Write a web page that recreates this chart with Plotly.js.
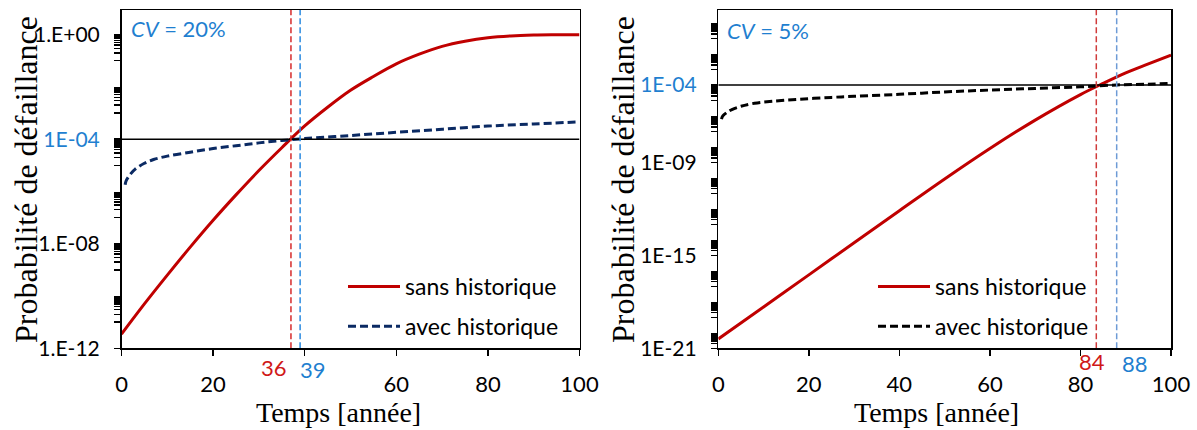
<!DOCTYPE html>
<html>
<head>
<meta charset="utf-8">
<script src="https://cdn.plot.ly/plotly-3.0.1.min.js"></script>
<style>
  html, body { margin: 0; padding: 0; background: #ffffff; }
  #chart { width: 1197px; height: 430px; }
</style>
</head>
<body>
<div id="chart"></div>
<script>
// ---------------- DATA ----------------
// Left panel : CV = 20 %
const tSansL = [0, 5, 10, 15, 20, 25, 30, 35, 40, 45, 50, 55, 60, 65, 70, 75, 80, 85, 90, 95, 100];
const pSansL = [3.5e-12, 5.0e-11, 6.3e-10, 7.4e-9, 7.9e-8, 7.4e-7, 6.3e-6, 4.7e-5, 3.2e-4, 1.66e-3,
                7.4e-3, 2.5e-2, 7.6e-2, 0.178, 0.355, 0.56, 0.76, 0.89, 0.955, 0.98, 0.993];
const tAvecL = [0.8, 1, 2, 3, 5, 7, 10, 15, 20, 25, 30, 35, 40, 50, 60, 70, 80, 90, 100];
const pAvecL = [1.8e-6, 2.5e-6, 4.7e-6, 7.1e-6, 1.2e-5, 1.66e-5, 2.24e-5, 3.16e-5, 4.37e-5, 5.6e-5,
                7.2e-5, 8.9e-5, 1.05e-4, 1.38e-4, 1.82e-4, 2.4e-4, 3.16e-4, 3.8e-4, 4.6e-4];
// Right panel : CV = 5 %
const tSansR = [0, 10, 20, 30, 40, 50, 60, 70, 80, 85, 90, 95, 100];
const pSansR = [4.0e-21, 4.7e-19, 5.5e-17, 6.5e-15, 7.6e-13, 8.5e-11, 7.9e-9, 5.4e-7, 2.4e-5,
                1.26e-4, 6.0e-4, 2.3e-3, 8.5e-3];
const tAvecR = [0.7, 1, 2, 3, 5, 8, 12, 18, 25, 30, 40, 50, 60, 70, 80, 88, 95, 100];
const pAvecR = [6.3e-7, 1.0e-6, 1.78e-6, 2.6e-6, 4.2e-6, 6.6e-6, 8.9e-6, 1.2e-5, 1.58e-5, 1.86e-5,
                2.5e-5, 3.55e-5, 4.7e-5, 6.0e-5, 7.6e-5, 1.0e-4, 1.12e-4, 1.26e-4];

const threshold = 1e-4;           // target probability (horizontal line)
const tLimitL = [37, 39];         // vertical markers, left panel (sans, avec)
const tLimitR = [83.5, 88];       // vertical markers, right panel (sans, avec)
const limitLabelsL = ['36', '39'];
const limitLabelsR = ['84', '88'];
const cvLabels = ['<i>CV</i> = 20%', '<i>CV</i> = 5%'];
const seriesNames = ['sans historique', 'avec historique'];
const xTicks = [0, 20, 40, 60, 80, 100];
const xTickTextL = ['0', '20', '', '60', '80', '100'];   // "40" hidden behind the 36 / 39 labels
const xTickTextR = ['0', '20', '40', '60', '80', '100'];
const yTickValsL = [1, 1e-4, 1e-8, 1e-12];
const yTickTextL = ['1.E+00', '1E-04', '1.E-08', '1.E-12'];
const yTickValsR = [1e-4, 1e-9, 1e-15, 1e-21];
const yTickTextR = ['1E-04', '1E-09', '1E-15', '1E-21'];

// ---------------- STYLE ----------------
const SANS = 'Lato, Carlito, Calibri, "Open Sans", sans-serif';
const SERIF = '"Liberation Serif", "Times New Roman", serif';
const RED = '#c00000';
const NAVY = '#0b2a63';
const BLUE_TXT = '#1f7fd0';

function blueTick(t) { return '<span style="fill:' + BLUE_TXT + '">' + t + '</span>'; }
const tickTextL = yTickTextL.map(t => t === '1E-04' ? blueTick(t) : t);
const tickTextR = yTickTextR.map(t => t === '1E-04' ? blueTick(t) : t);

// minor tick positions emulating the Excel log axis marks
function minorTicks(lo, hi) {
  const v = [];
  for (let d = hi; d >= lo; d -= 2) {
    for (let m = 1; m <= 9; m++) v.push(Math.pow(10, d - 1) * m);
  }
  return v;
}

const yRangeL = [-12, 0.94];
const yRangeR = [-21, 0.84];

const traces = [
  // left panel
  { x: tSansL, y: pSansL, xaxis: 'x', yaxis: 'y', mode: 'lines', name: seriesNames[0],
    line: { color: RED, width: 3, shape: 'spline' }, legend: 'legend', legendgroup: 'a' },
  { x: tAvecL, y: pAvecL, xaxis: 'x', yaxis: 'y', mode: 'lines', name: seriesNames[1],
    line: { color: NAVY, width: 3, dash: '8px,4px', shape: 'spline' }, legend: 'legend', legendgroup: 'b' },
  { x: [0, 100], y: [threshold, threshold], xaxis: 'x', yaxis: 'y', mode: 'lines',
    line: { color: '#000000', width: 1.5 }, showlegend: false, hoverinfo: 'skip' },
  { x: [tLimitL[0], tLimitL[0]], y: [1e-12, Math.pow(10, yRangeL[1])], xaxis: 'x', yaxis: 'y', mode: 'lines',
    line: { color: '#d62a2a', width: 1.5, dash: '6px,3px' }, showlegend: false, hoverinfo: 'skip' },
  { x: [tLimitL[1], tLimitL[1]], y: [1e-12, Math.pow(10, yRangeL[1])], xaxis: 'x', yaxis: 'y', mode: 'lines',
    line: { color: '#2a8ae0', width: 1.5, dash: '6px,3px' }, showlegend: false, hoverinfo: 'skip' },
  // right panel
  { x: tSansR, y: pSansR, xaxis: 'x2', yaxis: 'y2', mode: 'lines', name: seriesNames[0],
    line: { color: RED, width: 3, shape: 'spline' }, legend: 'legend2', legendgroup: 'c' },
  { x: tAvecR, y: pAvecR, xaxis: 'x2', yaxis: 'y2', mode: 'lines', name: seriesNames[1],
    line: { color: '#000000', width: 3, dash: '8px,4px', shape: 'spline' }, legend: 'legend2', legendgroup: 'd' },
  { x: [0, 100], y: [threshold, threshold], xaxis: 'x2', yaxis: 'y2', mode: 'lines',
    line: { color: '#000000', width: 1.5 }, showlegend: false, hoverinfo: 'skip' },
  { x: [tLimitR[0], tLimitR[0]], y: [1e-21, Math.pow(10, yRangeR[1])], xaxis: 'x2', yaxis: 'y2', mode: 'lines',
    line: { color: '#d03a3a', width: 1.5, dash: '6px,3px' }, showlegend: false, hoverinfo: 'skip' },
  { x: [tLimitR[1], tLimitR[1]], y: [1e-21, Math.pow(10, yRangeR[1])], xaxis: 'x2', yaxis: 'y2', mode: 'lines',
    line: { color: '#6d9bd6', width: 1.5, dash: '6px,3px' }, showlegend: false, hoverinfo: 'skip' }
];

const xAxisBase = {
  range: [0, 100], tickvals: xTicks, showgrid: false, zeroline: false,
  showline: true, linecolor: '#000', linewidth: 1.5, mirror: true,
  ticks: 'outside', ticklen: 6, tickwidth: 1.5, tickcolor: '#000',
  ticklabelstandoff: 10,
  tickfont: { family: SANS, size: 22, color: '#000' }
};
const yAxisBase = {
  type: 'log', showgrid: false, zeroline: false,
  showline: true, linecolor: '#000', linewidth: 1.5, mirror: true,
  ticks: 'outside', ticklen: 6, tickwidth: 1.5, tickcolor: '#000',
  ticklabelstandoff: 10,
  tickfont: { family: SANS, size: 21, color: '#000' }
};

const H = 430, W = 1197;
const yDom = [1 - 348.3 / H, 1 - 10 / H];

const legendBase = {
  xanchor: 'left', yanchor: 'top',
  bgcolor: 'rgba(0,0,0,0)', borderwidth: 0, tracegroupgap: 7,
  font: { family: SANS, size: 23, color: '#000' }, itemwidth: 52
};

const layout = {
  width: W, height: H,
  margin: { l: 0, r: 0, t: 0, b: 0 },
  paper_bgcolor: '#fff', plot_bgcolor: '#fff',
  showlegend: true,
  xaxis: Object.assign({}, xAxisBase, { domain: [121.5 / W, 579.5 / W], anchor: 'y', ticktext: xTickTextL }),
  yaxis: Object.assign({}, yAxisBase, {
    domain: yDom, anchor: 'x', range: yRangeL,
    tickvals: yTickValsL, ticktext: tickTextL,
    minor: { tickvals: minorTicks(-12, 0), ticks: 'outside', ticklen: 6, tickwidth: 1.5, tickcolor: '#000' }
  }),
  xaxis2: Object.assign({}, xAxisBase, { domain: [718.3 / W, 1171 / W], anchor: 'y2', ticktext: xTickTextR }),
  yaxis2: Object.assign({}, yAxisBase, {
    domain: yDom, anchor: 'x2', range: yRangeR,
    tickvals: yTickValsR, ticktext: tickTextR,
    minor: { tickvals: minorTicks(-20, 0), ticks: 'outside', ticklen: 6, tickwidth: 1.5, tickcolor: '#000' }
  }),
  legend: Object.assign({}, legendBase, { x: 343 / W, y: 1 - 265 / H }),
  legend2: Object.assign({}, legendBase, { x: 873 / W, y: 1 - 265 / H }),
  annotations: [
    { text: cvLabels[0], xref: 'paper', yref: 'paper', x: 129 / W, y: 1 - 29 / H,
      xanchor: 'left', yanchor: 'middle', showarrow: false,
      font: { family: SANS, size: 22, color: BLUE_TXT } },
    { text: cvLabels[1], xref: 'paper', yref: 'paper', x: 725 / W, y: 1 - 30 / H,
      xanchor: 'left', yanchor: 'middle', showarrow: false,
      font: { family: SANS, size: 22, color: BLUE_TXT } },
    { text: limitLabelsL[0], xref: 'x', yref: 'paper', x: tLimitL[0], y: 1 - 367 / H,
      xanchor: 'right', yanchor: 'middle', xshift: -2, showarrow: false,
      font: { family: SANS, size: 22, color: '#d01818' } },
    { text: limitLabelsL[1], xref: 'x', yref: 'paper', x: tLimitL[1], y: 1 - 369 / H,
      xanchor: 'left', yanchor: 'middle', xshift: -2, showarrow: false,
      font: { family: SANS, size: 22, color: BLUE_TXT } },
    { text: limitLabelsR[0], xref: 'x2', yref: 'paper', x: tLimitR[0], y: 1 - 361 / H,
      xanchor: 'right', yanchor: 'middle', xshift: 11, showarrow: false,
      font: { family: SANS, size: 22, color: '#d01818' } },
    { text: limitLabelsR[1], xref: 'x2', yref: 'paper', x: tLimitR[1], y: 1 - 363 / H,
      xanchor: 'left', yanchor: 'middle', xshift: 3, showarrow: false,
      font: { family: SANS, size: 22, color: BLUE_TXT } },
    // axis titles
    { text: 'Temps [année]', xref: 'paper', yref: 'paper', x: 338 / W, y: 1 - 412 / H,
      xanchor: 'center', yanchor: 'middle', showarrow: false,
      font: { family: SERIF, size: 28, color: '#000' } },
    { text: 'Temps [année]', xref: 'paper', yref: 'paper', x: 936 / W, y: 1 - 412 / H,
      xanchor: 'center', yanchor: 'middle', showarrow: false,
      font: { family: SERIF, size: 28, color: '#000' } },
    { text: 'Probabilité de défaillance', xref: 'paper', yref: 'paper', x: 26 / W, y: 1 - 180 / H,
      xanchor: 'center', yanchor: 'middle', textangle: -90, showarrow: false,
      font: { family: SERIF, size: 32, color: '#000' } },
    { text: 'Probabilité de défaillance', xref: 'paper', yref: 'paper', x: 623 / W, y: 1 - 180 / H,
      xanchor: 'center', yanchor: 'middle', textangle: -90, showarrow: false,
      font: { family: SERIF, size: 32, color: '#000' } }
  ]
};

Plotly.newPlot('chart', traces, layout, { staticPlot: true, displayModeBar: false });
</script>
</body>
</html>
